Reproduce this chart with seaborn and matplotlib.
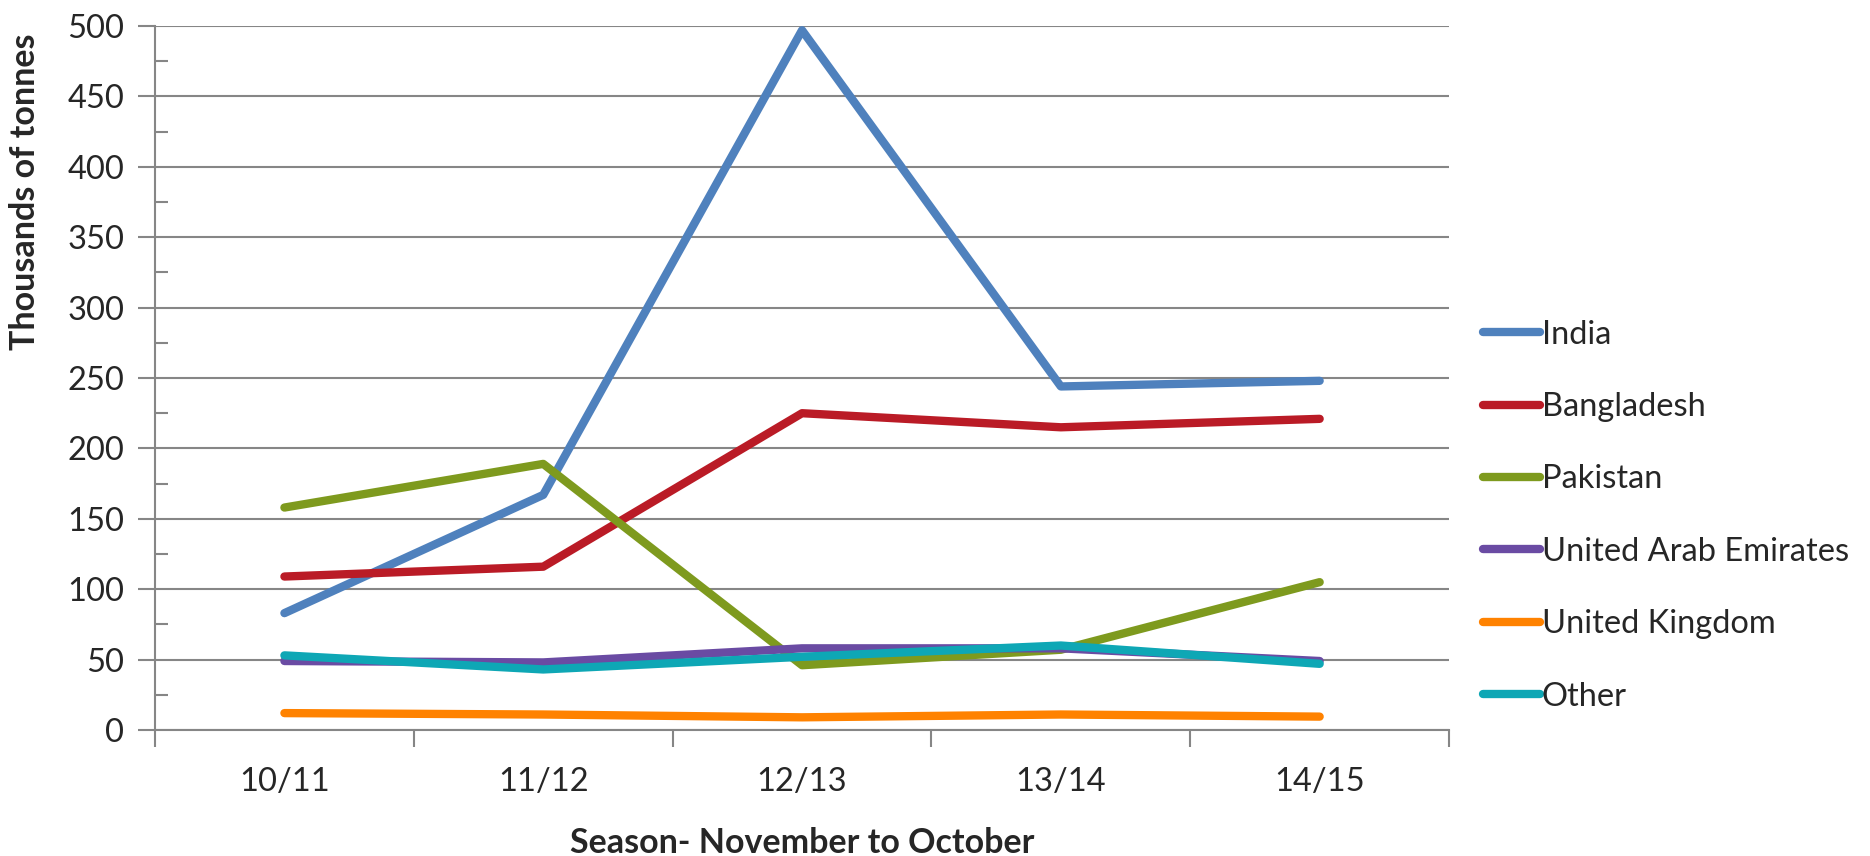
import seaborn as sns
import pandas as pd
import matplotlib.pyplot as plt
from matplotlib.ticker import MultipleLocator, FixedLocator

seasons = ["10/11", "11/12", "12/13", "13/14", "14/15"]
india = [83, 167, 497, 244, 248]
bangladesh = [109, 116, 225, 215, 221]
pakistan = [158, 189, 46, 57, 105]
uae = [49, 48, 58, 58, 49]
uk = [12, 11, 9, 11, 9.5]
other = [53, 43, 52, 60, 47]

series = {
    "India": india,
    "Bangladesh": bangladesh,
    "Pakistan": pakistan,
    "United Arab Emirates": uae,
    "United Kingdom": uk,
    "Other": other,
}
colours = ["#4F81BD", "#BA1B26", "#7E9A1E", "#6A4BA3", "#FF8200", "#0EA7B5"]

rows = []
for name, vals in series.items():
    for s, v in zip(seasons, vals):
        rows.append({"Season": s, "Country": name, "Value": v})
df = pd.DataFrame(rows)

sns.set_style("white")
plt.rcParams['font.family'] = ['Lato', 'DejaVu Sans']
grey = "#868686"
fs = 23.5

fig = plt.figure(figsize=(18.7, 8.56), dpi=100)
ax = fig.add_axes([0.0829, 0.1472, 0.692, 0.8224])

sns.lineplot(data=df, x="Season", y="Value", hue="Country", palette=colours,
             linewidth=6, ax=ax, sort=False, solid_capstyle="round")

ax.set_xlim(-0.5, 4.5)
ax.set_ylim(0, 500)
ax.yaxis.set_major_locator(MultipleLocator(50))
ax.yaxis.set_minor_locator(MultipleLocator(25))
ax.xaxis.set_major_locator(FixedLocator(range(len(seasons))))
ax.set_xticklabels(seasons)
ax.xaxis.set_minor_locator(FixedLocator([i - 0.5 for i in range(len(seasons) + 1)]))

ax.grid(axis="y", which="major", color=grey, linewidth=1.5)
ax.set_axisbelow(True)
for side in ["top", "right"]:
    ax.spines[side].set_visible(False)
for side in ["left", "bottom"]:
    ax.spines[side].set_color(grey)
    ax.spines[side].set_linewidth(1.5)

ax.tick_params(axis="y", which="major", direction="out", length=12, width=1.5,
               color=grey, labelsize=fs, pad=10, left=True)
ax.tick_params(axis="y", which="minor", direction="in", length=9, width=1.5,
               color=grey, left=True)
ax.tick_params(axis="x", which="major", length=0, labelsize=fs, pad=27)
ax.tick_params(axis="x", which="minor", direction="out", length=12, width=1.5,
               color=grey, bottom=True)

ax.set_ylabel("Thousands of tonnes", fontsize=24.5, fontweight="bold")
ax.yaxis.set_label_coords(-0.088, 0.764)
ax.set_xlabel("Season- November to October", fontsize=24.5, fontweight="bold", labelpad=21)

leg = ax.legend(loc="upper left", bbox_to_anchor=(0.786, 0.642), bbox_transform=fig.transFigure,
                frameon=False, fontsize=fs, handlelength=1.75, handletextpad=0.05,
                labelspacing=1.3, borderaxespad=0)
for line in leg.get_lines():
    line.set_linewidth(6)
    line.set_solid_capstyle("round")

fig.savefig("out.png", dpi=100)
